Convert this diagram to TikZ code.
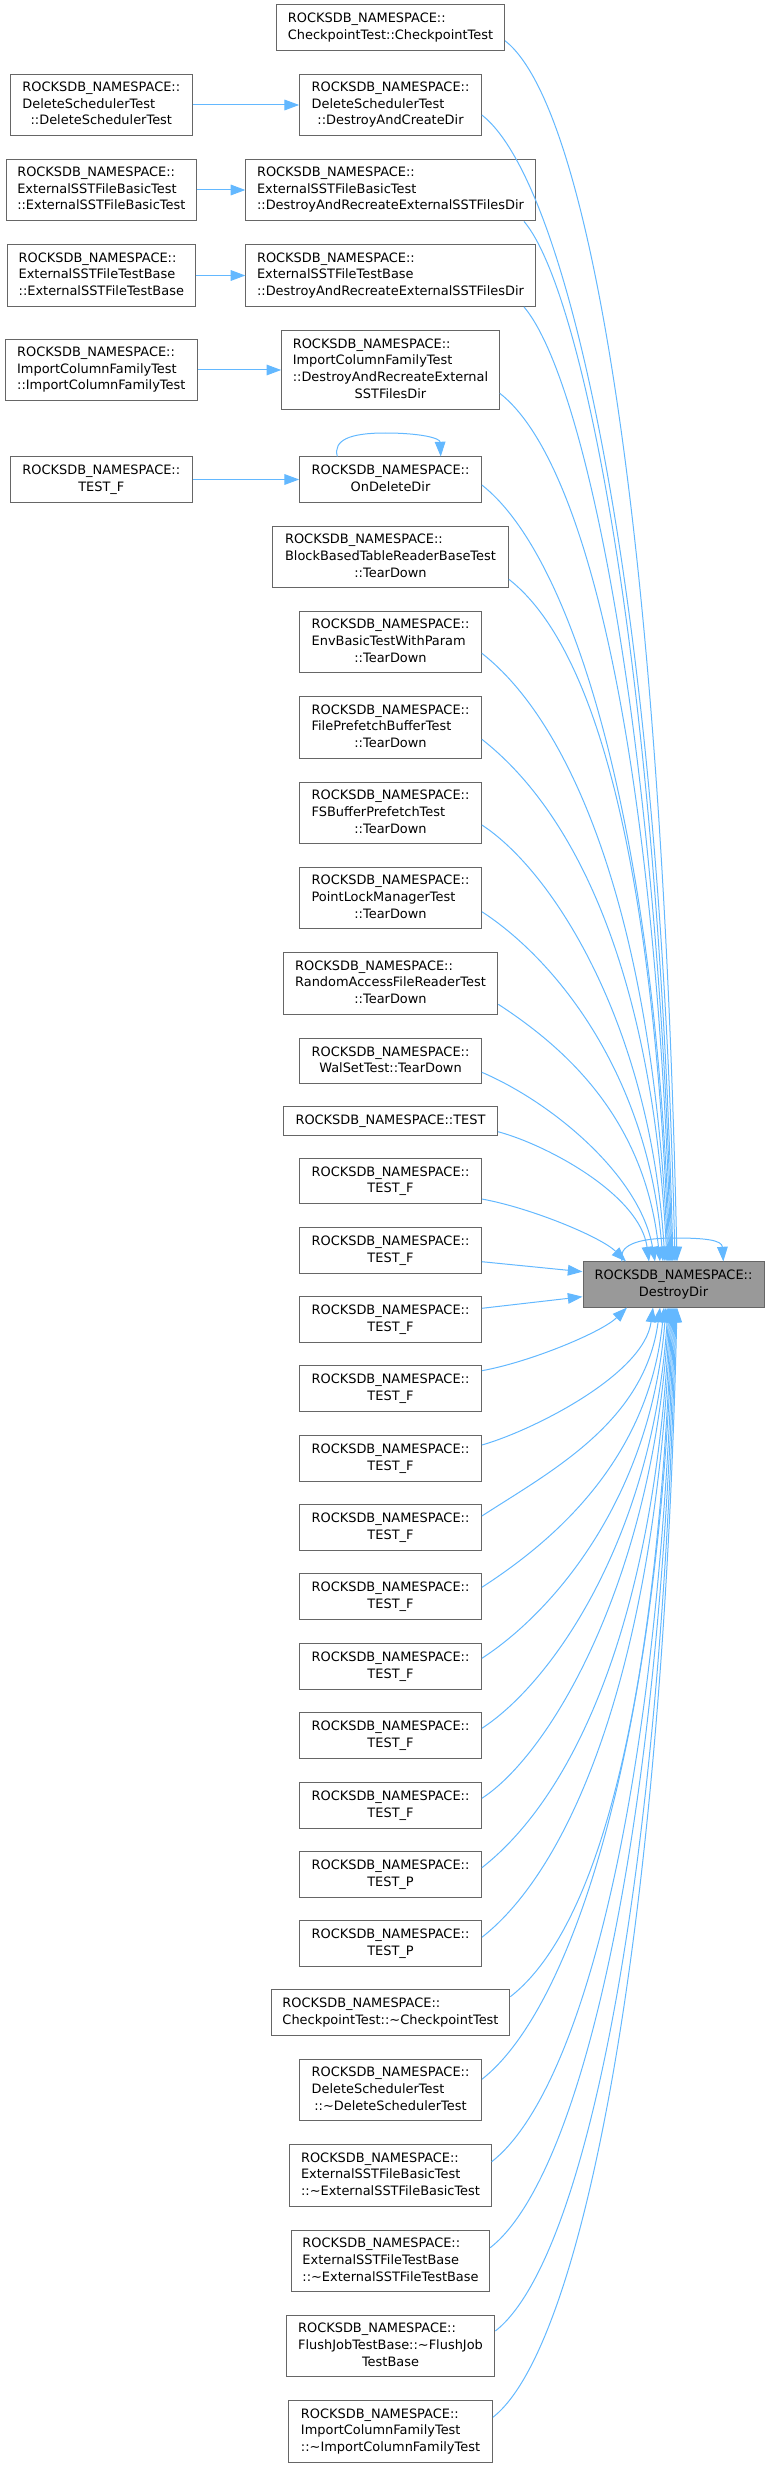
\documentclass[tikz,border=0pt]{standalone}
\usepackage{fontspec}
\setmainfont{DejaVu Sans}
\usetikzlibrary{arrows.meta}
\definecolor{edgeblue}{HTML}{63B8FF}
\definecolor{boxline}{HTML}{666666}
\definecolor{rootfill}{HTML}{999999}
\newcommand{\rns}{ROCKSDB\_NAMESPACE::}
\newcommand{\fnlabel}[2]{\begin{tabular}{@{}l@{}}#1\multicolumn{1}{@{}c@{}}{#2}\end{tabular}}
\begin{document}
\begin{tikzpicture}[x=0.75pt,y=-0.75pt,
  fnode/.style={draw=boxline,fill=white,line width=0.75pt,inner xsep=3pt,inner ysep=4.4pt,
    minimum width=136.3pt,font=\fontsize{9.7}{12.5}\selectfont},
  boxw/.style={minimum width=#1*0.75pt},
  rootnode/.style={fnode,fill=rootfill},
  callarrow/.style={draw=edgeblue,line width=0.75pt,-{Triangle[length=11pt,width=8pt]}}]
\useasboundingbox (0,0) rectangle (770,2468);

\node[rootnode,boxw=181] (ddir) at (673.5,1284.5) {\fnlabel{\rns\\}{DestroyDir}};

\node[fnode,boxw=228] (cpt) at (390.5,27.5) {\fnlabel{\rns\\}{CheckpointTest::CheckpointTest}};
\node[fnode] (ldst) at (101.3,105) {\fnlabel{\rns\\DeleteSchedulerTest\\}{::DeleteSchedulerTest}};
\node[fnode] (dacd) at (390.5,105) {\fnlabel{\rns\\DeleteSchedulerTest\\}{::DestroyAndCreateDir}};
\node[fnode,boxw=190.6] (lbasic) at (101.3,190) {\fnlabel{\rns\\ExternalSSTFileBasicTest\\}{::ExternalSSTFileBasicTest}};
\node[fnode,boxw=289.3] (drebasic) at (390.5,190) {\fnlabel{\rns\\ExternalSSTFileBasicTest\\}{::DestroyAndRecreateExternalSSTFilesDir}};
\node[fnode,boxw=187.6] (lbase) at (101.3,275.5) {\fnlabel{\rns\\ExternalSSTFileTestBase\\}{::ExternalSSTFileTestBase}};
\node[fnode,boxw=289.3] (drebase) at (390.5,275.5) {\fnlabel{\rns\\ExternalSSTFileTestBase\\}{::DestroyAndRecreateExternalSSTFilesDir}};
\node[fnode,boxw=192] (licf) at (101.3,370) {\fnlabel{\rns\\ImportColumnFamilyTest\\}{::ImportColumnFamilyTest}};
\node[fnode,boxw=217.6] (dreicf) at (390.5,370) {\fnlabel{\rns\\ImportColumnFamilyTest\\::DestroyAndRecreateExternal\\}{SSTFilesDir}};
\node[fnode] (ltf) at (101.3,479.5) {\fnlabel{\rns\\}{TEST\_F}};
\node[fnode] (odd) at (390.5,479.5) {\fnlabel{\rns\\}{OnDeleteDir}};
\node[fnode,boxw=235.8] (bbt) at (390.5,557) {\fnlabel{\rns\\BlockBasedTableReaderBaseTest\\}{::TearDown}};
\node[fnode] (envb) at (390.5,642) {\fnlabel{\rns\\EnvBasicTestWithParam\\}{::TearDown}};
\node[fnode] (fpb) at (390.5,727.5) {\fnlabel{\rns\\FilePrefetchBufferTest\\}{::TearDown}};
\node[fnode] (fsb) at (390.5,813) {\fnlabel{\rns\\FSBufferPrefetchTest\\}{::TearDown}};
\node[fnode] (plm) at (390.5,898) {\fnlabel{\rns\\PointLockManagerTest\\}{::TearDown}};
\node[fnode,boxw=214.6] (rafr) at (390.5,983.5) {\fnlabel{\rns\\RandomAccessFileReaderTest\\}{::TearDown}};
\node[fnode] (wal) at (390.5,1061) {\fnlabel{\rns\\}{WalSetTest::TearDown}};
\node[fnode,boxw=214] (test) at (390.5,1121) {\fnlabel{}{\rns TEST}};
\node[fnode] (tf1) at (390.5,1181) {\fnlabel{\rns\\}{TEST\_F}};
\node[fnode] (tf2) at (390.5,1250.5) {\fnlabel{\rns\\}{TEST\_F}};
\node[fnode] (tf3) at (390.5,1319.5) {\fnlabel{\rns\\}{TEST\_F}};
\node[fnode] (tf4) at (390.5,1388.5) {\fnlabel{\rns\\}{TEST\_F}};
\node[fnode] (tf5) at (390.5,1458.5) {\fnlabel{\rns\\}{TEST\_F}};
\node[fnode] (tf6) at (390.5,1527.5) {\fnlabel{\rns\\}{TEST\_F}};
\node[fnode] (tf7) at (390.5,1596.5) {\fnlabel{\rns\\}{TEST\_F}};
\node[fnode] (tf8) at (390.5,1666.5) {\fnlabel{\rns\\}{TEST\_F}};
\node[fnode] (tf9) at (390.5,1735.5) {\fnlabel{\rns\\}{TEST\_F}};
\node[fnode] (tf10) at (390.5,1805.5) {\fnlabel{\rns\\}{TEST\_F}};
\node[fnode] (tp1) at (390.5,1874.5) {\fnlabel{\rns\\}{TEST\_P}};
\node[fnode] (tp2) at (390.5,1943.5) {\fnlabel{\rns\\}{TEST\_P}};
\node[fnode,boxw=238.7] (dcpt) at (390.5,2012.5) {\fnlabel{\rns\\}{CheckpointTest::\textasciitilde CheckpointTest}};
\node[fnode] (dds) at (390.5,2090) {\fnlabel{\rns\\DeleteSchedulerTest\\}{::\textasciitilde DeleteSchedulerTest}};
\node[fnode,boxw=201.4] (debasic) at (390.5,2175.5) {\fnlabel{\rns\\ExternalSSTFileBasicTest\\}{::\textasciitilde ExternalSSTFileBasicTest}};
\node[fnode,boxw=198.4] (debase) at (390.5,2261) {\fnlabel{\rns\\ExternalSSTFileTestBase\\}{::\textasciitilde ExternalSSTFileTestBase}};
\node[fnode,boxw=208.7] (dfj) at (390.5,2346) {\fnlabel{\rns\\FlushJobTestBase::\textasciitilde FlushJob\\}{TestBase}};
\node[fnode,boxw=203.8] (dicf) at (390.5,2431.5) {\fnlabel{\rns\\ImportColumnFamilyTest\\}{::\textasciitilde ImportColumnFamilyTest}};

\draw[callarrow] (ldst) -- (dacd);
\draw[callarrow] (lbasic) -- (drebasic);
\draw[callarrow] (lbase) -- (drebase);
\draw[callarrow] (licf) -- (dreicf);
\draw[callarrow] (ltf) -- (odd);
\draw[callarrow] ([shift={(-53.2,0)}]odd.north) .. controls (333,440) and (350,433) .. (385,433)
  .. controls (420,433) and (440,438) .. ([shift={(50.2,0)}]odd.north);

\draw[callarrow] ([shift={(0,13.2)}]cpt.east) .. controls (594.5,110.7) and (662,565.8) .. ([shift={(3.5,0)}]ddir.north);
\draw[callarrow] ([shift={(0,10)}]dacd.east) .. controls (571.3,185) and (660,608.2) .. ([shift={(1.5,0)}]ddir.north);
\draw[callarrow] ([shift={(-11.7,0)}]drebasic.south east) .. controls (583.3,291) and (658,669) .. ([shift={(-0.5,0)}]ddir.north);
\draw[callarrow] ([shift={(-11.7,0)}]drebase.south east) .. controls (583.3,376.7) and (657,717.5) .. ([shift={(-1.5,0)}]ddir.north);
\draw[callarrow] ([shift={(0,23.3)}]dreicf.east) .. controls (589.3,463.3) and (656,766.8) .. ([shift={(-2.5,0)}]ddir.north);
\draw[callarrow] ([shift={(0,5.5)}]odd.east) .. controls (571.3,555) and (655,819.1) .. ([shift={(-3.5,0)}]ddir.north);
\draw[callarrow] ([shift={(0,22.3)}]bbt.east) .. controls (598.4,649.3) and (654,872.9) .. ([shift={(-4.5,0)}]ddir.north);
\draw[callarrow] ([shift={(0,11.3)}]envb.east) .. controls (571.3,723.3) and (653,915) .. ([shift={(-5.5,0)}]ddir.north);
\draw[callarrow] ([shift={(0,11.8)}]fpb.east) .. controls (571.3,809.3) and (652,964.1) .. ([shift={(-6.5,0)}]ddir.north);
\draw[callarrow] ([shift={(0,12)}]fsb.east) .. controls (551.3,870) and (650,1021.7) .. ([shift={(-8.5,0)}]ddir.north);
\draw[callarrow] ([shift={(0,13.7)}]plm.east) .. controls (551.3,956.7) and (648,1069.3) .. ([shift={(-10.5,0)}]ddir.north);
\draw[callarrow] ([shift={(0,20.8)}]rafr.east) .. controls (567.5,1049.3) and (645,1120.3) .. ([shift={(-13.5,0)}]ddir.north);
\draw[callarrow] ([shift={(0,11.3)}]wal.east) .. controls (551.3,1102) and (640,1175) .. ([shift={(-18.5,0)}]ddir.north);
\draw[callarrow] ([shift={(0,10.7)}]test.east) .. controls (547.5,1145) and (640,1195) .. ([shift={(-24.5,0)}]ddir.north);
\draw[callarrow] ([shift={(0,18)}]tf1.east) .. controls (531.3,1208) and (601,1237) .. ([shift={(-47.5,0)}]ddir.north);
\draw[callarrow] ([shift={(0,11.2)}]tf2.east) -- ([shift={(0,-12.8)}]ddir.west);
\draw[callarrow] ([shift={(0,-11.2)}]tf3.east) -- ([shift={(0,12.2)}]ddir.west);
\draw[callarrow] ([shift={(0,-17.8)}]tf4.east) .. controls (531.3,1361.7) and (602,1332) .. ([shift={(-46.5,0)}]ddir.south);
\draw[callarrow] ([shift={(0,-13.5)}]tf5.east) .. controls (531.3,1431) and (644,1375) .. ([shift={(-20.5,0)}]ddir.south);
\draw[callarrow] ([shift={(0,-11.5)}]tf6.east) .. controls (551.3,1471) and (645,1422) .. ([shift={(-13.5,0)}]ddir.south);
\draw[callarrow] ([shift={(0,-9.2)}]tf7.east) .. controls (551.3,1542.3) and (649,1461.2) .. ([shift={(-9.5,0)}]ddir.south);
\draw[callarrow] ([shift={(0,-8.2)}]tf8.east) .. controls (551.3,1613.3) and (651,1500.2) .. ([shift={(-7.5,0)}]ddir.south);
\draw[callarrow] ([shift={(0,-7.2)}]tf9.east) .. controls (551.3,1683.3) and (653,1538.7) .. ([shift={(-5.5,0)}]ddir.south);
\draw[callarrow] ([shift={(0,-7.2)}]tf10.east) .. controls (551.3,1753.3) and (654,1577.2) .. ([shift={(-4.5,0)}]ddir.south);
\draw[callarrow] ([shift={(0,-6.8)}]tp1.east) .. controls (571.3,1797.7) and (655,1626.6) .. ([shift={(-3.5,0)}]ddir.south);
\draw[callarrow] ([shift={(0,-6.2)}]tp2.east) .. controls (571.3,1867.3) and (656,1666.3) .. ([shift={(-2.5,0)}]ddir.south);
\draw[callarrow] ([shift={(0,-15.8)}]dcpt.east) .. controls (599.8,1926.7) and (657,1700.1) .. ([shift={(-1.5,0)}]ddir.south);
\draw[callarrow] ([shift={(0,-10.7)}]dds.east) .. controls (571.3,2009.3) and (658,1747.2) .. ([shift={(-0.5,0)}]ddir.south);
\draw[callarrow] ([shift={(0,-13.8)}]debasic.east) .. controls (581.2,2091.7) and (659,1794.2) .. ([shift={(0.5,0)}]ddir.south);
\draw[callarrow] ([shift={(0,-13.3)}]debase.east) .. controls (579.7,2177.7) and (660,1843.2) .. ([shift={(1.5,0)}]ddir.south);
\draw[callarrow] ([shift={(0,-15)}]dfj.east) .. controls (584.6,2261) and (661,1890.7) .. ([shift={(2.5,0)}]ddir.south);
\draw[callarrow] ([shift={(0,-14.2)}]dicf.east) .. controls (582.2,2347.3) and (662,1939.9) .. ([shift={(3.5,0)}]ddir.south);
\draw[callarrow] ([shift={(-51.5,0)}]ddir.north) .. controls (618,1246) and (635,1238) .. (675,1238)
  .. controls (705,1238) and (722,1240) .. ([shift={(49.8,0)}]ddir.north);
\end{tikzpicture}
\end{document}
